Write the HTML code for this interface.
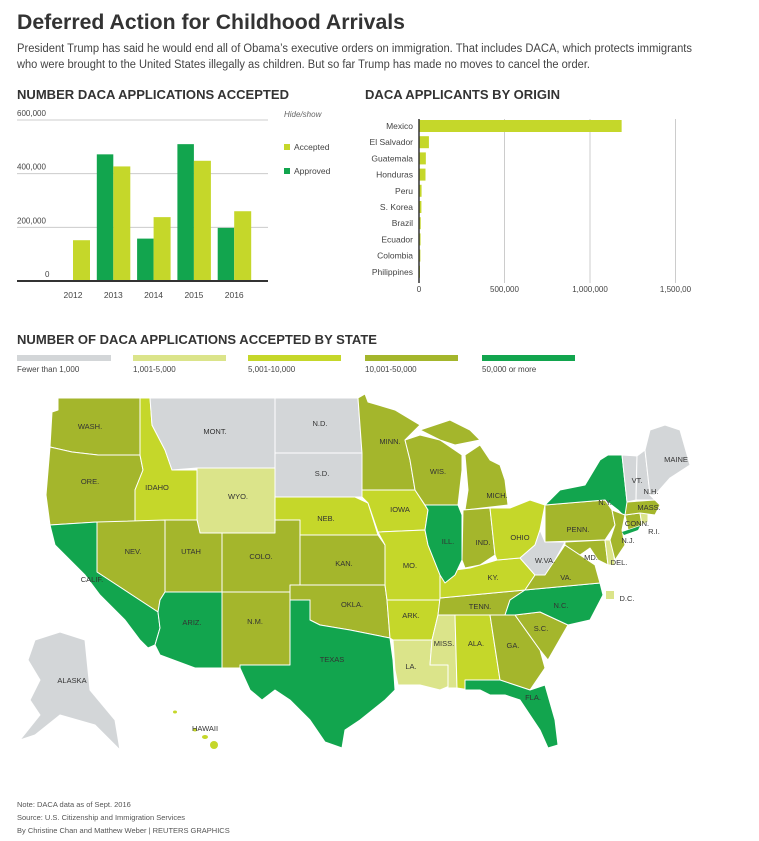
<!DOCTYPE html>
<html><head><meta charset="utf-8"><style>
body{margin:0;background:#fff;}
svg{display:block;font-family:"Liberation Sans",sans-serif;}
.st{stroke:#fff;stroke-width:1;stroke-linejoin:round;}
.lb{font-size:7.5px;fill:#333;text-anchor:middle;}
</style></head><body>
<svg id="page" width="759" height="841" viewBox="0 0 759 841">
<text x="17" y="29" font-size="21" font-weight="bold" fill="#333" textLength="388" lengthAdjust="spacingAndGlyphs">Deferred Action for Childhood Arrivals</text>
<text x="17" y="52" font-size="11.5" fill="#444" textLength="675" lengthAdjust="spacingAndGlyphs">President Trump has said he would end all of Obama’s executive orders on immigration. That includes DACA, which protects immigrants</text>
<text x="17" y="68" font-size="11.5" fill="#444" textLength="573" lengthAdjust="spacingAndGlyphs">who were brought to the United States illegally as children. But so far Trump has made no moves to cancel the order.</text>

<text x="17" y="99" font-size="13" font-weight="bold" fill="#333" textLength="272" lengthAdjust="spacingAndGlyphs">NUMBER DACA APPLICATIONS ACCEPTED</text>
<g id="yearChart"></g>
<text x="284" y="117" font-size="8" font-style="italic" fill="#666">Hide/show</text>
<g><rect x="284" y="144" width="6" height="6" fill="#c5d72a"/><text x="294" y="150" font-size="8.5" fill="#444">Accepted</text></g>
<g><rect x="284" y="168" width="6" height="6" fill="#12a54e"/><text x="294" y="174" font-size="8.5" fill="#444">Approved</text></g>

<text x="365" y="99" font-size="13" font-weight="bold" fill="#333" textLength="195" lengthAdjust="spacingAndGlyphs">DACA APPLICANTS BY ORIGIN</text>
<g id="originChart"></g>

<text x="17" y="344" font-size="13" font-weight="bold" fill="#333" textLength="360" lengthAdjust="spacingAndGlyphs">NUMBER OF DACA APPLICATIONS ACCEPTED BY STATE</text>
<g>
<rect x="17" y="355" width="94" height="6" fill="#d3d6d8"/><text x="17" y="372" font-size="8" fill="#444">Fewer than 1,000</text>
<rect x="133" y="355" width="93" height="6" fill="#dbe48a"/><text x="133" y="372" font-size="8" fill="#444">1,001-5,000</text>
<rect x="248" y="355" width="93" height="6" fill="#c5d72a"/><text x="248" y="372" font-size="8" fill="#444">5,001-10,000</text>
<rect x="365" y="355" width="93" height="6" fill="#a4b62c"/><text x="365" y="372" font-size="8" fill="#444">10,001-50,000</text>
<rect x="482" y="355" width="93" height="6" fill="#12a54e"/><text x="482" y="372" font-size="8" fill="#444">50,000 or more</text>
</g>
<g id="map"></g>

<text x="17" y="807" font-size="7.5" fill="#555">Note: DACA data as of Sept. 2016</text>
<text x="17" y="820" font-size="7.5" fill="#555">Source: U.S. Citizenship and Immigration Services</text>
<text x="17" y="833" font-size="7.5" fill="#555">By Christine Chan and Matthew Weber | REUTERS GRAPHICS</text>
</svg>
<script>
const NS="http://www.w3.org/2000/svg";
const years=["2012","2013","2014","2015","2016"];
const approved=[0,472000,158000,510000,198000];
const accepted=[152000,427000,238000,448000,260000];
const yTicks=[0,200000,400000,600000];
const yTickLabels=["0","200,000","400,000","600,000"];
const origins=["Mexico","El Salvador","Guatemala","Honduras","Peru","S. Korea","Brazil","Ecuador","Colombia","Philippines"];
const originValues=[1185000,58000,40000,38000,15000,14000,10000,9000,8000,5000];
const xTicks=[0,500000,1000000,1500000];
const xTickLabels=["0","500,000","1,000,000","1,500,00"];

function mk(tag,attrs,parent,txt){const e=document.createElementNS(NS,tag);for(const k in attrs)e.setAttribute(k,attrs[k]);if(txt!==undefined)e.textContent=txt;parent.appendChild(e);return e;}

// year chart
const yc=document.getElementById('yearChart');
const y0=281,y1=120,vMax=600000;
const ys=v=>y0-(v/vMax)*(y0-y1);
const xc=i=>73+i*40.3;
yTicks.forEach((t,i)=>{
  if(i>0){const l=mk('line',{x1:17,x2:268,y1:ys(t),y2:ys(t),stroke:'#ccc','stroke-width':1},yc);
  
  }
  const tx=mk('text',{x:i==0?45:17,y:ys(t)-4,'font-size':8,fill:'#444'},yc,yTickLabels[i]);
  
  
});
years.forEach((yr,i)=>{
  const c=xc(i);
  if(approved[i]>0){const b=mk('rect',{x:c-16.5,y:ys(approved[i]),width:16.5,height:y0-ys(approved[i]),fill:'#12a54e'},yc);
  
  }
  const a=mk('rect',{x:c,y:ys(accepted[i]),width:17,height:y0-ys(accepted[i]),fill:'#c5d72a'},yc);
  
  
  const t=mk('text',{x:c,y:298,'font-size':8.5,fill:'#444','text-anchor':'middle'},yc,yr);
  
  
});
const ax=mk('line',{x1:17,x2:268,y1:y0,y2:y0,stroke:'#333','stroke-width':2},yc);



// origin chart
const oc=document.getElementById('originChart');
const ox0=419,oxPer=(590-419)/1000000;
const xs=v=>ox0+v*oxPer;
xTicks.forEach((t,i)=>{
  if(i>0){const l=mk('line',{x1:xs(t),x2:xs(t),y1:119,y2:283,stroke:'#ccc','stroke-width':1},oc);
  
  }
  const tx=mk('text',{x:xs(t),y:292,'font-size':8,fill:'#444','text-anchor':'middle'},oc,xTickLabels[i]);
  
  
});
origins.forEach((o,i)=>{
  const yy=120+i*16.2;
  const b=mk('rect',{x:ox0,y:yy,width:Math.max(1,xs(originValues[i])-ox0),height:12,fill:'#c5d72a'},oc);
  
  
  const t=mk('text',{x:413,y:yy+9,'font-size':8.5,fill:'#444','text-anchor':'end'},oc,o);
  
  
});
const oax=mk('line',{x1:ox0,x2:ox0,y1:119,y2:283,stroke:'#333','stroke-width':1.5},oc);



// map
const C={g:'#d3d6d8',p:'#dbe48a',y:'#c5d72a',o:'#a4b62c',d:'#12a54e'};
const states=[
["WASH.","o","58,398 140,398 140,455 98,455 72,452 50,447 52,412 58,410",90,426],
["ORE.","o","50,447 72,452 98,455 140,455 143,470 135,490 135,525 97,522 50,525 46,495",90,481],
["IDAHO","y","140,398 150,398 152,425 165,450 172,470 197,470 197,520 135,525 135,490 143,470 140,455",157,487],
["MONT.","g","150,398 275,398 275,468 197,468 172,470 165,450 152,425",215,431],
["WYO.","p","197,468 275,468 275,533 200,533 197,520",238,496],
["NEV.","o","97,522 165,520 165,592 160,600 158,612 97,572",133,551],
["CALIF.","d","50,525 97,522 97,572 158,612 160,628 155,645 148,648 140,640 125,620 110,605 100,595 85,575 70,560 55,545",92,579],
["UTAH","o","165,520 197,520 200,533 222,533 222,592 165,592",191,551],
["COLO.","o","222,533 275,533 275,520 300,520 300,592 222,592",261,556],
["ARIZ.","d","165,592 222,592 222,668 195,668 160,655 155,645 160,628 158,612 160,600",192,622],
["N.M.","o","222,592 290,592 290,665 240,665 240,668 222,668",255,621],
["N.D.","g","275,398 358,398 362,453 275,453",320,423],
["S.D.","g","275,453 362,453 362,497 355,497 275,497",322,473],
["NEB.","y","275,497 355,497 368,503 378,535 300,535 300,520 275,520",326,518],
["KAN.","o","300,535 378,535 385,545 385,585 300,585",344,563],
["OKLA.","o","290,585 385,585 387,600 390,638 375,635 350,630 320,625 310,620 310,600 290,600",352,604],
["TEXAS","d","290,600 310,600 310,620 320,625 350,630 375,635 390,638 393,660 395,690 385,700 360,720 345,730 342,748 325,742 310,720 290,700 275,690 262,700 250,690 240,668 240,665 290,665",332,659],
["MINN.","o","358,398 365,394 368,402 395,410 420,425 405,440 410,460 415,490 362,490 362,453",390,441],
["IOWA","y","362,490 415,490 428,510 425,530 378,532 368,503 362,497",400,509],
["MO.","y","378,532 425,530 428,545 440,575 445,590 440,600 387,600 385,585 385,545",410,565],
["ARK.","y","387,600 440,600 438,615 432,640 393,640 390,638",411,615],
["LA.","p","393,640 432,640 430,665 448,665 452,685 440,690 420,685 398,685 395,670",411,666],
["MISS.","p","438,615 455,615 457,688 448,688 448,665 430,665 432,640",444,643],
["ALA.","y","455,615 490,615 500,680 470,682 470,690 457,688",476,643],
["GA.","o","490,615 515,615 540,650 545,668 530,690 500,680",513,645],
["FLA.","d","465,680 500,680 530,690 545,685 555,720 558,745 548,748 540,730 530,715 520,700 505,695 490,695 480,690 465,690",533,697],
["S.C.","o","515,615 540,612 568,625 548,660 540,650",541,628],
["TENN.","o","440,598 525,590 510,600 505,615 438,615",480,606],
["N.C.","d","505,615 510,600 525,590 600,583 603,595 590,620 568,625 540,612 515,615",561,605],
["KY.","y","440,575 455,570 470,568 497,560 520,558 535,575 525,590 440,598",493,577],
["WIS.","o","405,440 420,435 440,440 462,455 462,470 458,505 425,505 415,490 410,460",438,471],
["UP","o","420,430 450,420 470,430 480,440 455,445 440,440",0,0],
["ILL.","d","425,505 458,505 462,515 462,560 455,575 445,583 440,575 428,545 425,530 428,510",448,541],
["MICH.","o","465,455 480,445 490,460 500,465 505,480 508,505 465,510 468,490",497,495],
["IND.","o","463,510 490,508 495,555 480,565 465,568 462,560",483,542],
["OHIO","y","490,508 510,508 530,500 545,505 540,530 535,545 520,558 497,560 495,555",520,537],
["PENN.","o","545,505 605,500 612,510 615,525 605,540 545,542",578,529],
["N.Y.","d","545,505 560,490 585,485 600,460 608,455 622,455 627,502 628,520 618,510 605,500",605,502],
["W.VA.","g","520,558 535,545 540,530 545,542 565,542 555,560 545,575 535,575",545,560],
["VA.","o","525,590 535,575 545,575 555,560 565,545 580,555 595,565 600,583",566,577],
["MD.","o","565,542 605,540 608,565 598,560 590,548 580,555 565,545",591,557],
["DEL.","p","605,540 612,540 615,565 608,565",0,0],
["N.J.","o","612,510 625,515 622,530 625,545 615,560 610,540 615,525",0,0],
["CONN.","o","625,515 640,513 642,525 628,530",0,0],
["R.I.","p","640,513 648,512 648,522 642,525",0,0],
["MASS.","o","627,502 655,500 660,505 655,515 640,513 625,515",0,0],
["VT.","g","622,455 637,456 636,500 627,502",0,0],
["N.H.","g","637,456 645,450 650,495 655,500 636,500",0,0],
["MAINE","g","645,450 650,430 665,425 680,430 690,465 670,478 655,495 650,495",676,459],
["ALASKA","g","35,640 60,632 85,640 90,690 115,720 120,750 95,725 60,715 35,735 20,740 40,715 30,700 40,680 28,660",72,680]
];
const map=document.getElementById('map');
states.forEach(s=>{
  const p=mk('polygon',{points:s[2],fill:C[s[1]],class:'st'},map);
  
  
});
const nyc=mk('polygon',{points:'622,532 640,526 638,530 624,535',fill:'#12a54e'},map);


[[175,712,2,1.5],[195,730,2,1.5],[205,737,3,2],[214,745,4,4]].forEach(h=>{
  const e=mk('ellipse',{cx:h[0],cy:h[1],rx:h[2],ry:h[3],fill:C.y},map);
  
  
});
const dc=mk('rect',{x:606,y:591,width:8,height:8,fill:C.p},map);


states.forEach(s=>{
  if(s[3]){const t=mk('text',{x:s[3],y:s[4]+3,class:'lb'},map,s[0]);
  
  }
});
[["VT.",637,480],["N.H.",651,491],["MASS.",649,507],["CONN.",637,523],["R.I.",654,531],["N.J.",628,540],["DEL.",619,562],["D.C.",627,598],["HAWAII",205,728]].forEach(l=>{
  const t=mk('text',{x:l[1],y:l[2]+3,class:'lb'},map,l[0]);
  
  
});
</script>
</body></html>
